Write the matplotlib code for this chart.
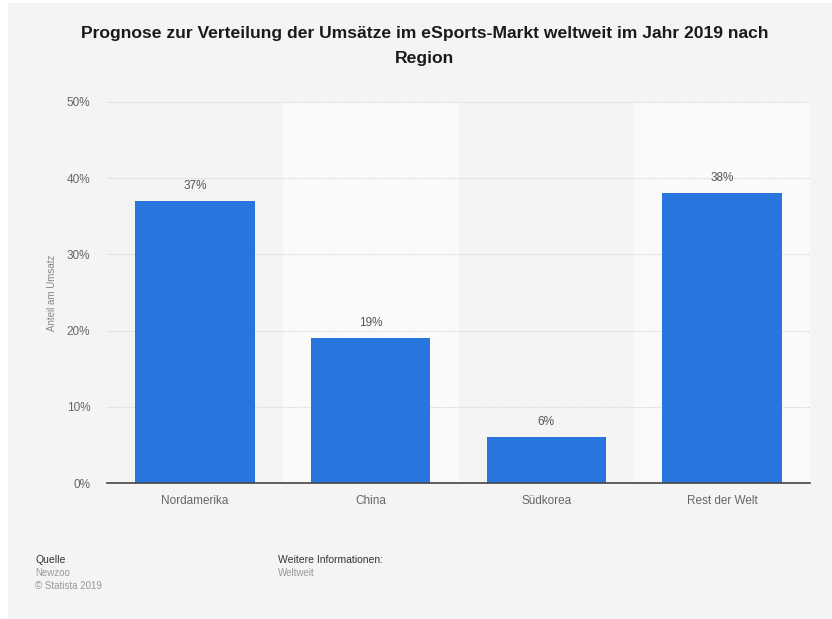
import numpy as np
from matplotlib import pyplot as plt
from matplotlib.patches import Rectangle

plt.rcParams['font.family'] = ['Liberation Sans', 'DejaVu Sans']

# data
regionen = ['Nordamerika', 'China', 'Südkorea', 'Rest der Welt']
anteil = [37, 19, 6, 38]
yticks = [0, 10, 20, 30, 40, 50]

bar_color = '#2876dd'
bg = '#f4f4f4'

fig = plt.figure(figsize=(8.32, 6.19), dpi=100, facecolor='white')
# gray card behind everything
fig.patches.append(Rectangle((8/832, 0), 1, 1 - 3/619, transform=fig.transFigure,
                             facecolor=bg, edgecolor='none', zorder=-10))

ax = fig.add_axes([107/832, 1 - 483/619, 703/832, 381/619])
ax.set_facecolor(bg)
x = np.arange(len(regionen))

# alternating column bands
for i in x:
    if i % 2 == 1:
        ax.axvspan(i - 0.5, i + 0.5, color='#fafafa', zorder=0, lw=0)

ax.bar(x, anteil, width=0.68, color=bar_color, zorder=3)
for xi, v in zip(x, anteil):
    ax.text(xi, v + 1.2, f'{v}%', ha='center', va='bottom', fontsize=8.5, color='#555555')

ax.set_xlim(-0.5, len(regionen) - 0.5)
ax.set_ylim(0, 50)
ax.set_yticks(yticks)
ax.set_yticklabels([f'{t}%' for t in yticks])
ax.set_xticks(x)
ax.set_xticklabels(regionen)
ax.tick_params(axis='both', length=0, labelsize=8.5, colors='#666666')
ax.tick_params(axis='y', pad=12)
ax.tick_params(axis='x', pad=9)
ax.yaxis.grid(True, linestyle=(0, (2, 1)), color='#dddddd', linewidth=0.8, zorder=1)
ax.set_axisbelow(True)
for s in ['top', 'right', 'left']:
    ax.spines[s].set_visible(False)
ax.spines['bottom'].set_color('#444444')
ax.spines['bottom'].set_linewidth(1.2)
ax.spines['bottom'].set_zorder(4)
ax.set_ylabel('Anteil am Umsatz', fontsize=7, color='#888888', labelpad=7)

fig.text(425/832, 1 - 46/619, 'Prognose zur Verteilung der Umsätze im eSports-Markt weltweit im Jahr 2019 nach\nRegion',
         ha='center', va='center', fontsize=12.6, fontweight='bold', color='#1a1a1a',
         linespacing=1.8)

# footer
fig.text(35/832, 1 - 560/619, 'Quelle', fontsize=7.5, color='#333333', va='center')
fig.text(35/832, 1 - 573/619, 'Newzoo', fontsize=7, color='#999999', va='center')
fig.text(35/832, 1 - 586/619, '© Statista 2019', fontsize=7, color='#999999', va='center')
fig.text(278/832, 1 - 560/619, 'Weitere Informationen:', fontsize=7.5, color='#333333', va='center')
fig.text(278/832, 1 - 573/619, 'Weltweit', fontsize=7, color='#999999', va='center')

fig.savefig('out.png', dpi=100, facecolor=fig.get_facecolor())
